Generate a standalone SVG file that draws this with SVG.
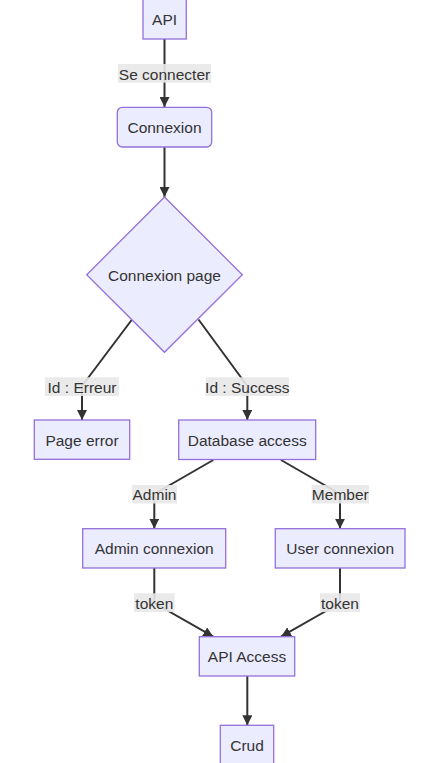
<svg xmlns="http://www.w3.org/2000/svg" width="445" height="763" viewBox="0 0 445 763">
<style>
.node rect, .node polygon { fill: #ECECFF; stroke: #9370DB; stroke-width: 1.3; }
.node text, .lbl text { font-family: "Liberation Sans", Arial, sans-serif; font-size: 15.5px; fill: #333; text-anchor: middle; dominant-baseline: central; }
.edge { fill: none; stroke: #333; stroke-width: 2; marker-end: url(#arr); }
.lbl rect { fill: #e8e8e8; opacity: 0.9; }
</style>
<defs>
<marker id="arr" viewBox="0 0 10 10" refX="10" refY="5" markerUnits="userSpaceOnUse" markerWidth="10" markerHeight="10" orient="auto">
<path d="M0,0 L10,5 L0,10 z" fill="#333"/>
</marker>
</defs>
<rect width="445" height="763" fill="#fff"/>
<g id="connectors">
<path class="edge" d="M164.5,39 L164.5,107"/>
<path class="edge" d="M164.5,147 L164.5,197"/>
<path class="edge" d="M132,319.5 L82,386 L82,420"/>
<path class="edge" d="M198.5,319.5 L247.3,386 L247.3,420"/>
<path class="edge" d="M213.3,460 L154.3,494 L154.3,528.7"/>
<path class="edge" d="M281,460 L340,494 L340,528.7"/>
<path class="edge" d="M154.3,568 L154.3,603 L213.3,636.7"/>
<path class="edge" d="M340,568 L340,603 L281,636.7"/>
<path class="edge" d="M247.3,676 L247.3,725.3"/>
</g>
<g id="labels">
<g class="lbl"><rect x="118" y="64" width="93" height="18.7"/><text x="164.5" y="74">Se connecter</text></g>
<g class="lbl"><rect x="45" y="377.3" width="74" height="18.7"/><text x="82" y="387">Id : Erreur</text></g>
<g class="lbl"><rect x="205.7" y="377.3" width="83.3" height="18.7"/><text x="247.3" y="387">Id : Success</text></g>
<g class="lbl"><rect x="132" y="485" width="45" height="18.5"/><text x="154.5" y="494.6">Admin</text></g>
<g class="lbl"><rect x="311.7" y="485" width="57.3" height="18.5"/><text x="340.3" y="494.6">Member</text></g>
<g class="lbl"><rect x="134" y="593.3" width="40.7" height="18.7"/><text x="154.3" y="603">token</text></g>
<g class="lbl"><rect x="320" y="593.3" width="40" height="18.7"/><text x="340" y="603">token</text></g>
</g>
<g id="API" class="node"><rect x="143" y="-1" width="43.3" height="40"/><text x="164.6" y="19.8">API</text></g>
<g id="Connexion" class="node"><rect x="117.3" y="107.3" width="94.4" height="39.7" rx="5" ry="5"/><text x="164.5" y="127.5">Connexion</text></g>
<g id="ConnexionPage" class="node"><polygon points="164.5,197 242.3,274.7 164.5,352.3 86.7,274.7"/><text x="164.5" y="275">Connexion page</text></g>
<g id="PageError" class="node"><rect x="34.3" y="420" width="95.4" height="39.3"/><text x="82" y="440">Page error</text></g>
<g id="DatabaseAccess" class="node"><rect x="178.7" y="420" width="137" height="39.5"/><text x="247.2" y="440">Database access</text></g>
<g id="AdminConnexion" class="node"><rect x="82.7" y="528.7" width="143" height="39.3"/><text x="154.2" y="548.6">Admin connexion</text></g>
<g id="UserConnexion" class="node"><rect x="275.3" y="528.7" width="129.7" height="39.3"/><text x="340.2" y="548.6">User connexion</text></g>
<g id="APIAccess" class="node"><rect x="199.3" y="636.7" width="95.4" height="39.3"/><text x="247" y="656.6">API Access</text></g>
<g id="Crud" class="node"><rect x="220.3" y="725.3" width="53.4" height="40"/><text x="247" y="745.3">Crud</text></g>
</svg>
